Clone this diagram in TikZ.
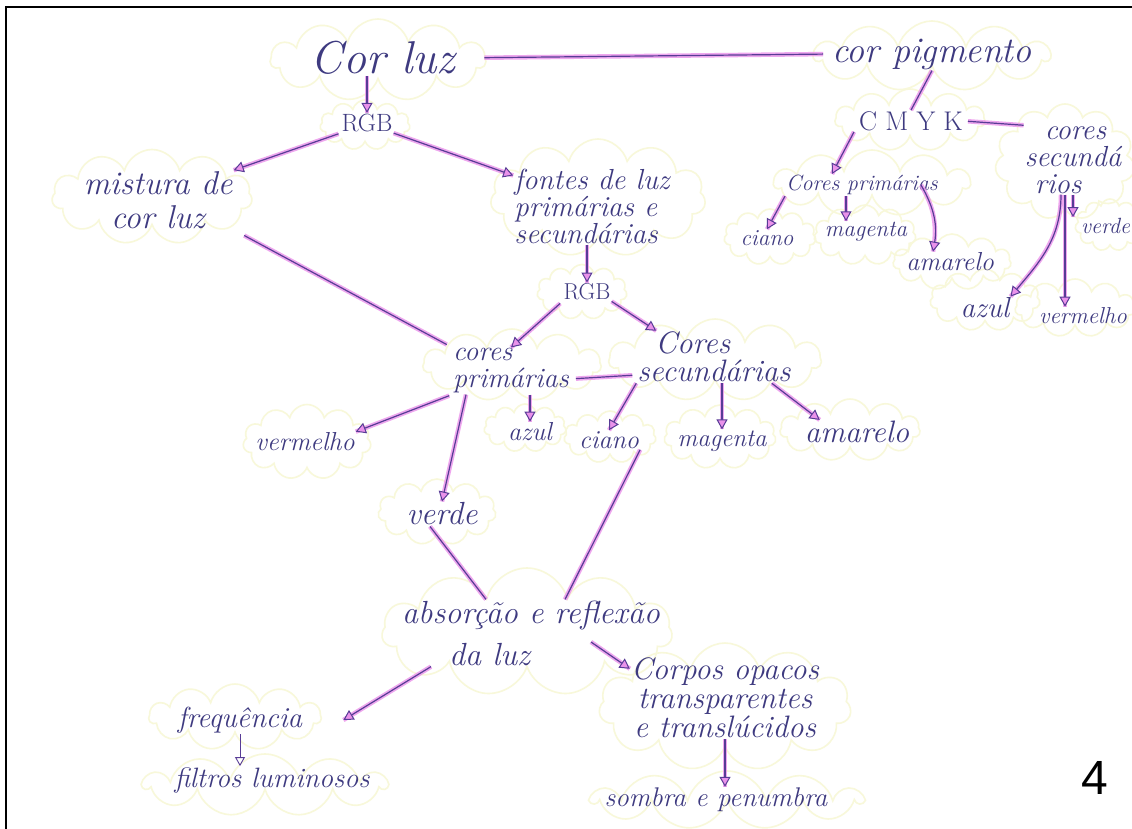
\documentclass[tikz,border=0pt]{standalone}
\usepackage{fontspec}
\newfontfamily\numfont{Liberation Sans}
\usetikzlibrary{arrows.meta,shapes.symbols}
\definecolor{ink}{RGB}{62,58,128}
\definecolor{linkc}{RGB}{88,60,150}
\definecolor{hlc}{RGB}{234,146,234}
\definecolor{cloudc}{RGB}{248,248,218}
\newcommand\hwfont[2]{\fontsize{#1}{#2}\selectfont\itshape}
\newcommand\prfont[1]{\fontsize{#1}{#1}\selectfont}
\tikzset{
  txt/.style={text=ink, inner sep=1pt},
  cloudy/.style={cloud, cloud puffs=11, cloud ignores aspect, draw=cloudc, line width=1.6pt, inner sep=0pt},
  link/.style={draw=linkc, line width=1.2pt,
    preaction={draw=hlc, line width=4.5pt, -, opacity=0.8}},
  arr/.style={link, -{Triangle[width=11pt,length=10pt,fill=hlc,line width=1pt]}},
  thinarr/.style={draw=linkc, line width=0.9pt, -{Triangle[width=10pt,length=9pt,open,line width=0.9pt]}}
}
\begin{document}
\begin{tikzpicture}[x=1pt,y=-1pt]
\useasboundingbox (0,0) rectangle (1132,828);
\clip (0,0) rectangle (1132,828);
\fill[white] (0,0) rectangle (1132,828);

% clouds behind the words
\node[cloudy, minimum width=215pt, minimum height=82pt] (clA) at (378,60) {};
\node[cloudy, minimum width=235pt, minimum height=70pt] (clB) at (932,56) {};
\node[cloudy, minimum width=90pt, minimum height=50pt] (clC) at (365,125) {};
\node[cloudy, minimum width=200pt, minimum height=95pt] (clD) at (152,197) {};
\node[cloudy, minimum width=215pt, minimum height=118pt] (clE) at (598,198) {};
\node[cloudy, minimum width=90pt, minimum height=55pt] (clF) at (582,292) {};
\node[cloudy, minimum width=178pt, minimum height=72pt] (clG) at (512,365) {};
\node[cloudy, minimum width=212pt, minimum height=82pt] (clH) at (715,360) {};
\node[cloudy, minimum width=128pt, minimum height=75pt] (clI) at (307,442) {};
\node[cloudy, minimum width=82pt, minimum height=48pt] (clJ) at (525,428) {};
\node[cloudy, minimum width=92pt, minimum height=52pt] (clK) at (610,437) {};
\node[cloudy, minimum width=112pt, minimum height=64pt] (clL) at (720,437) {};
\node[cloudy, minimum width=140pt, minimum height=62pt] (clM) at (850,430) {};
\node[cloudy, minimum width=118pt, minimum height=66pt] (clN) at (437,512) {};
\node[cloudy, minimum width=290pt, minimum height=128pt] (clO) at (527,632) {};
\node[cloudy, minimum width=172pt, minimum height=66pt] (clP) at (235,717) {};
\node[cloudy, minimum width=242pt, minimum height=62pt] (clQ) at (265,785) {};
\node[cloudy, minimum width=252pt, minimum height=128pt] (clR) at (725,707) {};
\node[cloudy, minimum width=268pt, minimum height=58pt] (clS) at (727,800) {};
\node[cloudy, minimum width=150pt, minimum height=62pt] (clT) at (910,120) {};
\node[cloudy, minimum width=196pt, minimum height=66pt] (clU) at (872,183) {};
\node[cloudy, minimum width=92pt, minimum height=56pt] (clV) at (770,237) {};
\node[cloudy, minimum width=102pt, minimum height=60pt] (clW) at (865,235) {};
\node[cloudy, minimum width=118pt, minimum height=56pt] (clX) at (952,262) {};
\node[cloudy, minimum width=140pt, minimum height=116pt] (clY) at (1065,162) {};
\node[cloudy, minimum width=70pt, minimum height=52pt] (clZ) at (1110,225) {};
\node[cloudy, minimum width=110pt, minimum height=62pt] (clAz) at (985,300) {};
\node[cloudy, minimum width=120pt, minimum height=58pt] (clVm) at (1075,308) {};

% words
\node[txt, font=\hwfont{46}{46}] (corluz) at (383,58) {Cor luz};
\node[txt, font=\hwfont{36}{36}] (cp) at (932,54) {cor pigmento};
\node[txt, font=\prfont{25}] (rgb1) at (367,123) {RGB};
\node[txt, font=\hwfont{33}{34}, align=center] (mistura) at (158,200) {mistura de\\cor luz};
\node[txt, font=\hwfont{29}{27}, align=left] (fontes) at (592,206) {fontes de luz\\primárias e\\secundárias};
\node[txt, font=\prfont{23}] (rgb2) at (587,292) {RGB};
\node[txt, font=\hwfont{28}{27}, align=left] (cprim) at (511,371) {cores\\primárias};
\node[txt, font=\hwfont{31}{28}, align=left] (csec) at (714,357) {\hspace*{18pt}Cores\\secundárias};
\node[txt, font=\hwfont{26}{26}] (verm1) at (305,442) {vermelho};
\node[txt, font=\hwfont{26}{26}] (azul1) at (530,432) {azul};
\node[txt, font=\hwfont{26}{26}] (ciano1) at (609,440) {ciano};
\node[txt, font=\hwfont{25}{25}] (magenta1) at (722,441) {magenta};
\node[txt, font=\hwfont{31}{31}] (amarelo1) at (857,432) {amarelo};
\node[txt, font=\hwfont{32}{32}] (verde1) at (442,514) {verde};
\node[txt, font=\hwfont{32}{42}, align=left] (absorcao) at (531,633) {absorção e reflexão\\\hspace*{47pt}da luz};
\node[txt, font=\hwfont{29}{29}] (freq) at (240,720) {frequência};
\node[txt, font=\hwfont{28}{28}] (filtros) at (272,780) {filtros luminosos};
\node[txt, font=\hwfont{31}{29}, align=center] (corpos) at (725,698) {Corpos opacos\\transparentes\\e translúcidos};
\node[txt, font=\hwfont{27}{27}] (sombra) at (716,800) {sombra e penumbra};
\node[txt, font=\prfont{27}] (cmyk) at (911,121) {C M Y K};
\node[txt, font=\hwfont{22}{22}] (cprim2) at (862,185) {Cores primárias};
\node[txt, font=\hwfont{23}{23}] (ciano2) at (767,238) {ciano};
\node[txt, font=\hwfont{23}{23}] (magenta2) at (866,232) {magenta};
\node[txt, font=\hwfont{26}{26}] (amarelo2) at (950,262) {amarelo};
\node[txt, font=\hwfont{29}{27}, align=left] (csec2) at (1073,160) {\hspace*{20pt}cores\\secundá\\\hspace*{10pt}rios};
\node[txt, font=\hwfont{22}{22}, anchor=west] (verde2) at (1080,226) {verde};
\node[txt, font=\hwfont{29}{29}] (azul2) at (985,308) {azul};
\node[txt, font=\hwfont{23}{23}] (vermelho2) at (1083,316) {vermelho};
\node[font=\numfont\fontsize{48}{48}\selectfont, text=black] (pagenum) at (1095,778) {4};

% connectors
\draw[link, shorten <=28pt, shorten >=8pt] (corluz.east) -- (cp.west);
\draw[arr] (rgb1.north |- corluz.south) -- (rgb1.north);
\draw[arr, shorten <=2pt] (rgb1.south west) -- (mistura.north east);
\draw[arr] (rgb1.south east) -- ([yshift=-8pt]fontes.north west);
\draw[link, shorten <=12pt, shorten >=6pt] (mistura.south east) -- (cprim.north west);
\draw[arr] (rgb2.north |- fontes.south) -- (rgb2.north);
\draw[arr, shorten <=3pt] (rgb2.south west) -- (cprim.north);
\draw[arr] (rgb2.south east) -- ([xshift=20pt]csec.north west);
\draw[link, shorten <=6pt, shorten >=4pt] ([yshift=-8pt]cprim.east) -- ([yshift=-18pt]csec.west);
\draw[arr, shorten <=3pt] (cprim.south west) -- (verm1.north east);
\draw[arr] (azul1.north |- cprim.south) -- (azul1.north);
\draw[arr] ([xshift=14pt]cprim.south west) -- (verde1.north);
\draw[arr] (csec.south west) -- (ciano1.north);
\draw[arr] (magenta1.north |- csec.south) -- (magenta1.north);
\draw[arr] ([xshift=-20pt]csec.south east) -- ([xshift=16pt]amarelo1.north west);
\draw[link] ([xshift=-12pt]verde1.south) -- ([xshift=85pt]absorcao.north west);
\draw[link] (ciano1.south east) -- ([xshift=34pt]absorcao.north);
\draw[arr] ([xshift=30pt]absorcao.south west) -- ([xshift=40pt]freq.east);
\draw[arr] ([xshift=-70pt,yshift=-9pt]absorcao.east) -- ([yshift=-12pt]corpos.north west);
\draw[thinarr] (freq.south) -- (freq.south |- filtros.north);
\draw[arr] (corpos.south) -- (corpos.south |- sombra.north);
\draw[link] (cp.south) -- (cmyk.north);
\draw[link, shorten <=4pt] (cmyk.east) -- (csec2.north west);
\draw[arr] ([xshift=-4pt]cmyk.south west) -- ([xshift=-30pt]cprim2.north);
\draw[arr] (cprim2.south west) -- (ciano2.north);
\draw[arr] ([xshift=-20pt]magenta2.north |- cprim2.south) -- ([xshift=-20pt]magenta2.north);
\draw[arr] ([xshift=-18pt]cprim2.east) to[bend left=20] ([xshift=-17pt]amarelo2.north);
\draw[arr] (csec2.south) -- (csec2.south |- verde2.north);
\draw[arr] ([xshift=-12pt]csec2.south) to[out=-90,in=50] (azul2.north east);
\draw[arr] ([xshift=-8pt]csec2.south) -- ([xshift=-8pt]csec2.south |- vermelho2.north);

% page frame
\draw[line width=2.5pt, black] (6,830) -- (6,7) -- (1134,7);
\end{tikzpicture}
\end{document}
